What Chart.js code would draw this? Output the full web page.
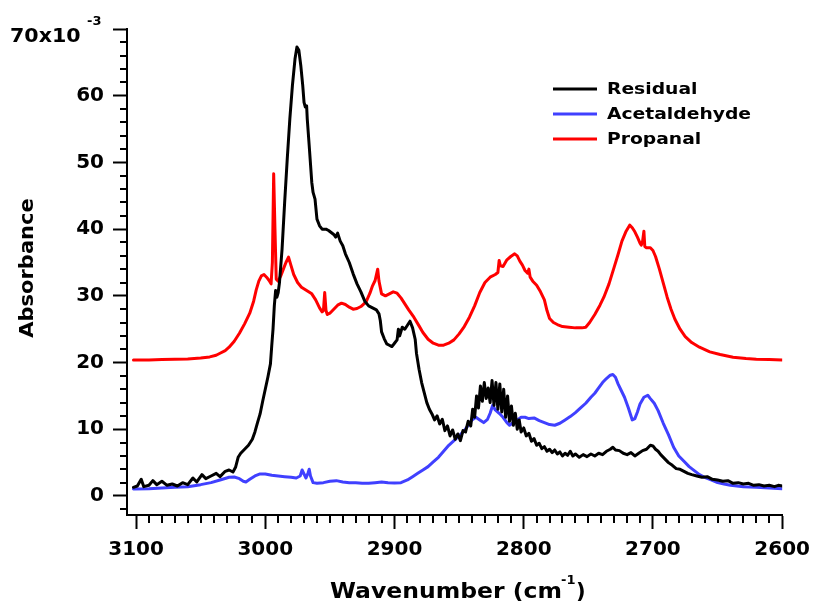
<!DOCTYPE html>
<html>
<head>
<meta charset="utf-8">
<script src="https://cdn.jsdelivr.net/npm/chart.js@4.4.0/dist/chart.umd.min.js"></script>
<style>
  html, body { margin: 0; padding: 0; background: #fff; }
  #chart { display: block; }
</style>
</head>
<body>
<canvas id="chart" width="819" height="605"></canvas>
<script>
// wavenumber (cm-1) and absorbance (x10^-3)
const residualWn = [3102,3099,3096,3094,3090,3087,3084,3080,3076,3072,3068,3064,3060,3056,3053,3049,3046,3042,3038,3035,
  3031,3028,3025,3023,3021,3019,3016,3013,3010,3008,3006,3004,3002,3000,2998,2996,2995,2994,2993,2992,
  2991,2990,2989,2987,2985,2983,2981,2979,2977,2975.5,2974,2972.5,2971,2970,2969,2968,2967.5,2966,2964,2963,
  2961.5,2960,2958,2956,2953,2951,2949,2947,2945.5,2944,2942,2940,2938,2935,2932,2929,2926,2923,2920,2917,
  2914,2912,2911,2910,2908,2906,2904,2902,2900,2898,2897,2896,2894,2892,2890,2888,2886,2884,2883,2881,
  2879,2877,2875,2873,2871,2869,2867,2865,2863,2861,2859,2857,2855,2853,2851,2849,2847,2845,2843,2841,
  2839.5,2838,2836.5,2835,2833.5,2832,2830.5,2829,2827.5,2826,2824.5,2823,2821.5,2820,2818.5,2817,2815.5,2814,2812.5,2811,
  2809.5,2808,2806.5,2805,2803.5,2802,2800,2798,2796,2794,2792,2790,2788,2786,2784,2782,2780,2778,2776,2774,
  2772,2770,2768,2766,2764,2762,2760,2757,2754,2751,2748,2745,2742,2739,2736,2733,2731,2729,2726,2723,
  2720,2717,2714,2711,2708,2705,2702,2700,2698,2696,2694,2691,2688,2685,2682,2679,2676,2673,2670,2666,
  2662,2658,2654,2650,2646,2642,2638,2634,2630,2626,2622,2618,2614,2610,2606,2603,2600];
const residualAbs = [1.3,1.5,2.5,1.4,1.6,2.3,1.7,2.2,1.6,1.8,1.5,2.0,1.7,2.7,2.1,3.2,2.6,3.0,3.4,2.9,
  3.7,3.9,3.6,4.3,5.8,6.4,7.0,7.6,8.5,9.6,11.0,12.3,14.2,16.0,17.8,19.8,22.5,25.0,28.5,30.8,
  29.8,30.5,32.0,37.0,44.0,50.5,56.5,61.5,65.5,67.3,66.8,64.5,61.5,59.0,58.3,58.5,56.5,52.5,47.0,45.5,
  44.5,41.5,40.5,40.0,40.0,39.8,39.5,39.2,38.8,39.4,38.2,37.5,36.3,35.0,33.3,31.8,30.6,29.2,28.5,28.2,
  27.9,27.3,26.3,24.6,23.6,22.8,22.6,22.4,22.9,23.4,25.0,24.0,25.3,25.0,25.6,26.2,25.2,23.5,21.4,19.0,
  17.0,15.5,14.0,13.0,12.3,11.4,12.0,10.8,11.5,9.8,10.5,9.0,9.9,8.5,9.3,8.3,9.8,9.6,11.2,10.5,
  13.0,11.8,15.0,13.2,16.5,14.2,17.0,14.6,16.2,14.0,17.3,13.6,17.0,13.0,16.8,12.6,16.0,11.8,15.0,11.2,
  13.5,10.6,12.4,10.0,11.4,9.6,10.2,9.0,9.4,8.2,8.6,7.6,7.9,7.1,7.4,6.7,7.0,6.5,6.9,6.3,
  6.6,6.0,6.4,6.1,6.7,6.0,6.3,5.8,6.2,5.9,6.3,6.0,6.4,6.2,6.7,7.0,7.3,6.9,6.8,6.4,
  6.2,6.5,6.0,6.4,6.8,7.0,7.6,7.5,7.0,6.7,6.2,5.6,5.0,4.6,4.1,4.0,3.7,3.4,3.2,3.0,
  2.8,2.9,2.5,2.4,2.2,2.3,1.9,2.0,1.8,1.9,1.6,1.7,1.5,1.6,1.4,1.6,1.5];

const acetWn = [3102,3090,3080,3070,3060,3050,3042,3035,3028,3024,3020,3017,3015,3012,3008,3004,3000,2995,2990,2985,
  2980,2976,2973,2971.5,2970,2968.5,2967,2966,2965,2963,2960,2955,2950,2945,2940,2935,2930,2925,2920,2915,
  2910,2905,2900,2895,2890,2886,2882,2878,2874,2870,2866,2862,2858,2854,2850,2846,2843,2840,2837,2834,
  2831,2828,2826,2824,2822,2819,2816,2813,2811,2808,2805,2802,2799,2796,2792,2788,2784,2780,2776,2772,
  2768,2764,2760,2756,2752,2748,2745,2742,2739,2736,2733,2731,2729,2727,2725,2722,2719,2716,2714,2712,
  2710,2707,2704,2702,2699,2696,2692,2688,2684,2680,2676,2672,2668,2664,2660,2655,2650,2645,2640,2630,
  2620,2610,2600];
const acetAbs = [1.05,1.1,1.2,1.3,1.4,1.7,2.0,2.4,2.8,2.85,2.6,2.2,2.1,2.5,3.0,3.3,3.3,3.1,3.0,2.9,
  2.8,2.7,3.0,3.9,3.3,2.7,3.4,4.0,3.0,2.0,1.9,2.0,2.2,2.3,2.1,2.0,2.0,1.9,1.9,2.0,
  2.1,2.0,1.95,2.0,2.4,2.9,3.4,3.9,4.4,5.1,5.8,6.7,7.6,8.3,9.0,9.8,10.6,11.4,11.8,11.4,
  11.0,11.5,12.4,13.6,12.9,12.4,11.8,11.0,10.6,11.0,11.4,11.8,11.8,11.6,11.7,11.3,11.0,10.7,10.6,10.9,
  11.4,11.9,12.5,13.2,13.9,14.8,15.4,16.2,17.0,17.6,18.1,18.2,17.8,16.8,16.0,14.8,13.2,11.4,11.6,12.6,
  13.8,14.8,15.1,14.6,13.9,12.8,10.9,9.2,7.3,6.0,5.2,4.4,3.8,3.2,2.8,2.4,2.0,1.8,1.6,1.4,
  1.3,1.2,1.1];

const propWn = [3102,3090,3080,3070,3060,3050,3043,3038,3035,3031,3028,3024,3020,3016,3012,3009,3007,3005,3003,3001,
  2999,2997,2995.5,2994.5,2993.5,2992.5,2991.5,2990,2988,2986,2984,2982,2980,2978,2975,2972,2968,2964,2961,2958,
  2956,2955,2954,2953,2952,2950,2947,2944,2941,2938,2935,2932,2929,2926,2922,2919,2917,2915,2913,2912,
  2910,2907,2904,2901,2898,2895,2892,2889,2885,2881,2878,2874,2870,2866,2862,2858,2854,2850,2846,2842,
  2838,2834,2830,2826,2822,2820,2819,2818,2816,2813,2810,2807,2805,2803,2801,2799,2797,2796,2795,2793,
  2790,2787,2784,2782,2780,2777,2774,2770,2765,2760,2755,2752,2749,2745,2741,2738,2734,2730,2727,2724,
  2721,2718,2716,2714,2712,2710,2709,2708,2707,2706.3,2705,2702,2700,2698,2695,2692,2689,2686,2683,2679,
  2675,2670,2664,2656,2648,2638,2628,2620,2610,2600];
const propAbs = [20.4,20.4,20.45,20.5,20.55,20.7,20.85,21.1,21.4,21.8,22.3,23.2,24.4,25.8,27.4,29.2,30.9,32.2,33.0,33.2,
  32.8,32.3,31.8,35.0,48.3,40.0,32.5,32.2,33.0,34.0,35.0,35.8,34.5,33.2,32.0,31.3,30.8,30.3,29.4,28.2,
  27.6,27.8,30.5,27.8,27.2,27.4,28.0,28.6,28.9,28.7,28.3,28.0,28.1,28.4,29.1,30.4,31.5,32.3,34.0,32.2,
  30.3,30.0,30.3,30.6,30.4,29.7,28.8,27.9,26.8,25.5,24.5,23.5,22.9,22.6,22.6,22.9,23.4,24.3,25.4,26.8,
  28.5,30.5,32.0,32.8,33.2,33.5,35.3,34.5,34.4,35.4,35.9,36.3,36.0,35.2,34.6,33.8,33.4,34.0,32.8,32.2,
  31.6,30.6,29.4,27.8,26.6,26.0,25.7,25.4,25.3,25.2,25.2,25.3,26.0,27.2,28.6,29.8,31.8,34.3,36.2,38.2,
  39.6,40.6,40.2,39.6,38.8,37.9,37.6,38.2,39.7,37.4,37.2,37.2,36.8,35.9,34.0,31.9,29.8,28.0,26.5,25.0,
  23.9,23.0,22.3,21.6,21.2,20.8,20.6,20.5,20.45,20.4];

const seriesNames = ["Residual", "Acetaldehyde", "Propanal"];
const seriesColors = ["#000000", "#4040ff", "#ff0000"];

const xTickValues = [3100, 3000, 2900, 2800, 2700, 2600];
const yTickValues = [0, 10, 20, 30, 40, 50, 60, 70];

const FONT = "'DejaVu Sans', sans-serif";

function toPoints(wn, abs) {
  return wn.map((w, i) => ({ x: w, y: abs[i] }));
}

// draws text stretched horizontally
function stretchText(ctx, text, x, y, sx) {
  ctx.save();
  ctx.translate(x, y);
  ctx.scale(sx, 1);
  ctx.fillText(text, 0, 0);
  ctx.restore();
}

const extras = {
  id: "extras",
  afterDraw(chart) {
    const ctx = chart.ctx;
    const xs = chart.scales.x;
    const ys = chart.scales.y;
    ctx.save();

    // minor ticks
    ctx.strokeStyle = "#000";
    ctx.lineWidth = 2;
    ctx.beginPath();
    for (let w = 2600; w <= 3100; w += 10) {
      if (w % 100 === 0) continue;
      const px = Math.round(xs.getPixelForValue(w));
      ctx.moveTo(px, xs.top);
      ctx.lineTo(px, xs.top + 8);
    }
    for (let v = -2; v < 70; v += 2) {
      if (v % 10 === 0) continue;
      const py = Math.round(ys.getPixelForValue(v));
      ctx.moveTo(ys.right, py);
      ctx.lineTo(ys.right - 7, py);
    }
    ctx.stroke();

    // top label 70x10^-3
    const yTop = ys.getPixelForValue(70);
    ctx.fillStyle = "#000";
    ctx.textAlign = "left";
    ctx.textBaseline = "alphabetic";
    ctx.font = "bold 20px " + FONT;
    stretchText(ctx, "70x10", 10, yTop + 13, 1.03);
    ctx.font = "bold 13px " + FONT;
    ctx.fillText("-3", 87, yTop - 4);

    // axis titles
    ctx.font = "bold 21px " + FONT;
    stretchText(ctx, "Wavenumber (cm", 330, 598, 1.12);
    ctx.font = "bold 13px " + FONT;
    ctx.fillText("-1", 561, 584);
    ctx.font = "bold 21px " + FONT;
    ctx.fillText(")", 576, 598);

    ctx.save();
    ctx.translate(33, 268);
    ctx.rotate(-Math.PI / 2);
    ctx.font = "bold 20px " + FONT;
    ctx.textAlign = "center";
    stretchText(ctx, "Absorbance", 0, 0, 1.05);
    ctx.restore();

    // legend, in series order
    ctx.font = "bold 16px " + FONT;
    ctx.textAlign = "left";
    ctx.textBaseline = "middle";
    seriesNames.forEach((name, i) => {
      const ly = 89 + i * 25;
      ctx.strokeStyle = seriesColors[i];
      ctx.lineWidth = 3;
      ctx.beginPath();
      ctx.moveTo(553, ly);
      ctx.lineTo(597, ly);
      ctx.stroke();
      ctx.fillStyle = "#000";
      stretchText(ctx, name, 607, ly + 1, 1.17);
    });

    ctx.restore();
  }
};

const ctx = document.getElementById("chart").getContext("2d");
const myChart = new Chart(ctx, {
  type: "line",
  data: {
    datasets: [
      { label: seriesNames[0], data: toPoints(residualWn, residualAbs), order: 0 },
      { label: seriesNames[1], data: toPoints(acetWn, acetAbs), order: 1 },
      { label: seriesNames[2], data: toPoints(propWn, propAbs), order: 2 }
    ].map((ds, i) => Object.assign(ds, {
      borderColor: seriesColors[i],
      backgroundColor: seriesColors[i],
      borderWidth: 3,
      pointRadius: 0,
      tension: 0,
      fill: false,
      borderJoinStyle: "round",
      borderCapStyle: "round"
    }))
  },
  options: {
    responsive: false,
    animation: false,
    devicePixelRatio: 1,
    layout: { autoPadding: false, padding: { left: 0, top: 29, right: 33, bottom: 0 } },
    plugins: { legend: { display: false }, tooltip: { enabled: false } },
    scales: {
      x: {
        type: "linear",
        position: "bottom",
        reverse: true,
        min: 2600,
        max: 3107,
        afterBuildTicks: s => { s.ticks = xTickValues.map(v => ({ value: v })); },
        afterFit: s => { s.height = 90; },
        grid: { drawOnChartArea: false, drawTicks: true, tickLength: 14, tickWidth: 2, tickColor: "#000" },
        border: { display: true, color: "#000", width: 2 },
        ticks: {
          autoSkip: false,
          maxRotation: 0,
          color: "#000",
          padding: 9,
          font: { family: FONT, size: 20, weight: "bold" },
          callback: v => String(v)
        }
      },
      y: {
        type: "linear",
        position: "left",
        min: -2.85,
        max: 70,
        afterBuildTicks: s => { s.ticks = yTickValues.map(v => ({ value: v })); },
        afterFit: s => { s.width = 127; },
        grid: { drawOnChartArea: false, drawTicks: true, tickLength: 14, tickWidth: 2, tickColor: "#000" },
        border: { display: true, color: "#000", width: 2 },
        ticks: {
          autoSkip: false,
          color: "#000",
          padding: 9,
          font: { family: FONT, size: 20, weight: "bold" },
          callback: v => (v === 70 ? "" : String(v))
        }
      }
    }
  },
  plugins: [extras]
});
</script>
</body>
</html>
